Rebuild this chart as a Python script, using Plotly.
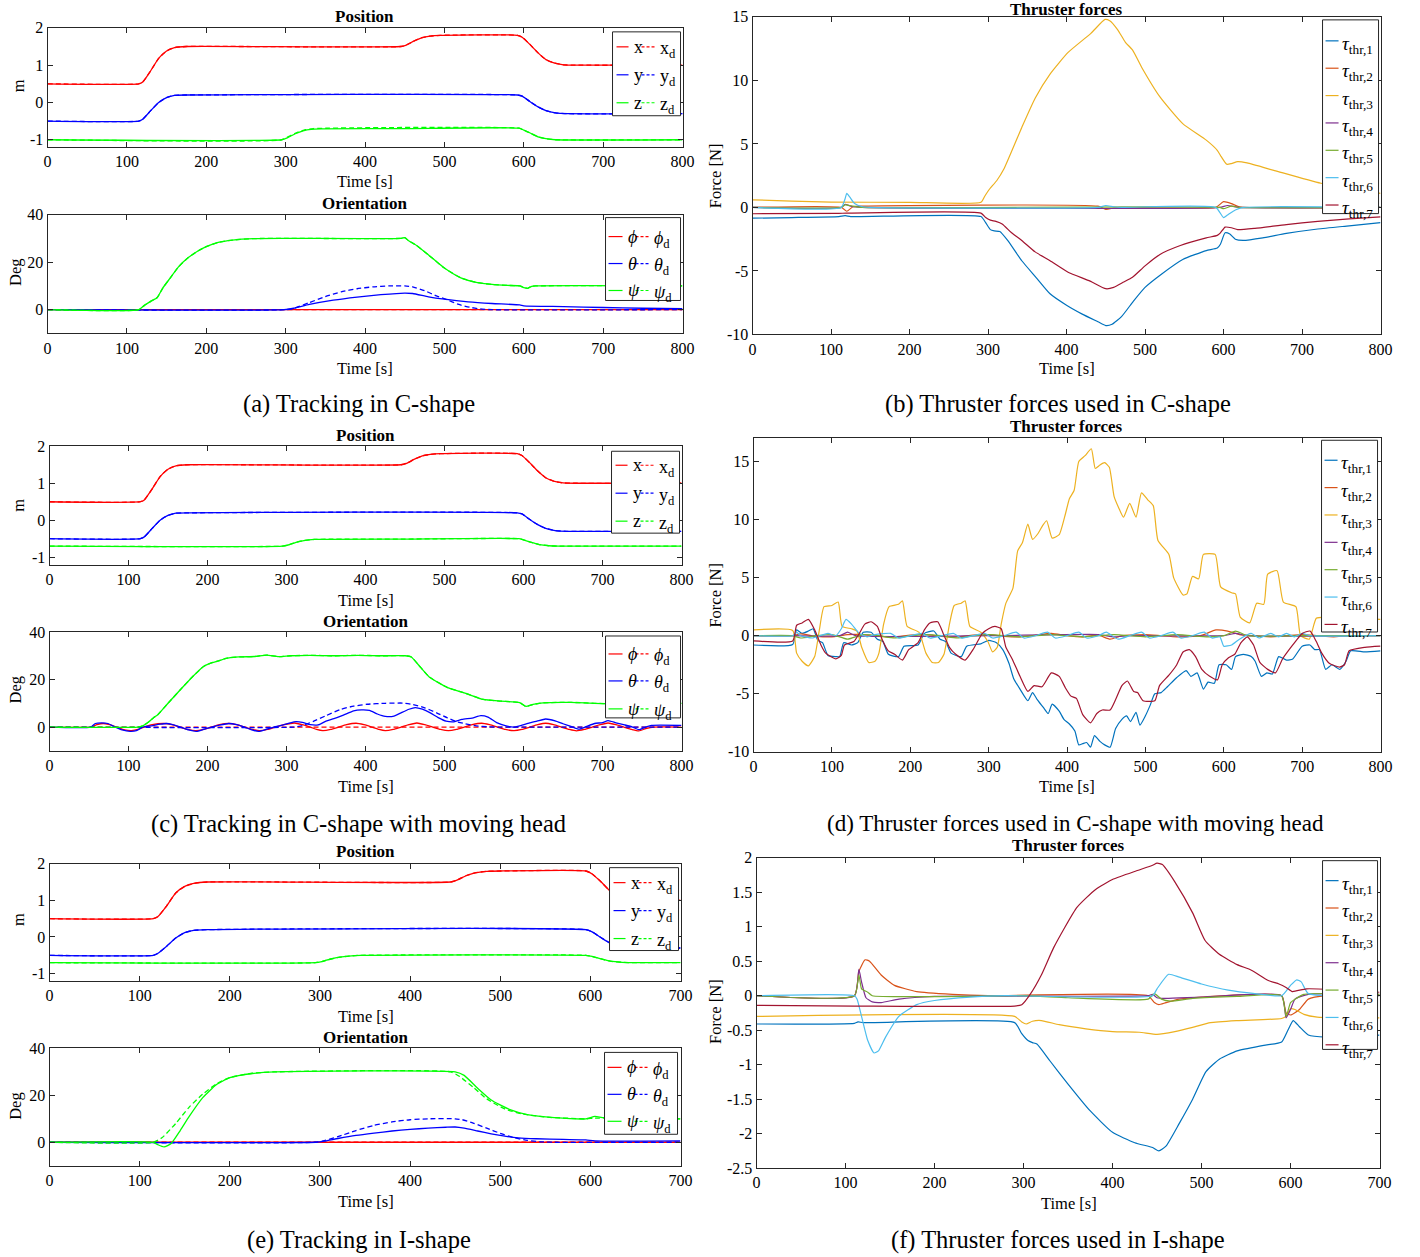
import plotly.graph_objects as go

W, H = 1420, 1257
FONT = "Liberation Serif"

# ---------------- DATA (time [s], value) ----------------
# (a) C-shape position
A_x = [(0,.5),(115,.5),(120,.55),(130,.85),(140,1.18),(150,1.38),(160,1.47),(175,1.5),(445,1.5),(452,1.54),(462,1.65),(472,1.74),(482,1.78),(495,1.8),(592,1.8),(598,1.75),(608,1.55),(618,1.33),(628,1.15),(638,1.06),(650,1.01),(665,1.0),(800,1.0)]
A_y = [(0,-.5),(115,-.5),(120,-.45),(130,-.22),(140,0.0),(150,.13),(160,.19),(175,.2),(592,.2),(598,.17),(608,.02),(618,-.12),(628,-.22),(640,-.28),(655,-.3),(800,-.3)]
A_z = [(0,-1),(295,-1),(302,-.95),(312,-.84),(322,-.76),(332,-.72),(345,-.71),(450,-.7),(594,-.69),(600,-.74),(608,-.82),(618,-.92),(628,-.97),(640,-1.0),(800,-1.0)]
A_zd = [(0,-1),(295,-1),(305,-.9),(315,-.8),(325,-.73),(335,-.7),(594,-.69),(600,-.74),(608,-.82),(618,-.92),(628,-.97),(640,-1.0),(800,-1.0)]
# (a) C-shape orientation
A_phi = [(0,0),(800,0)]
A_theta = [(0,0),(298,0),(310,0.6),(330,2.2),(360,4),(390,5.3),(420,6.3),(450,7),(460,6.8),(480,5.4),(500,4.4),(530,3.3),(560,2.6),(595,2.0),(600,1.6),(650,1.3),(700,0.9),(750,0.6),(800,0.4)]
A_theta_d = [(0,0),(300,0),(310,0.5),(330,3),(350,5.5),(370,7.5),(390,8.8),(410,9.6),(430,10),(450,10),(460,9.6),(475,8),(490,5.8),(503,4.2),(518,2.2),(532,1.0),(545,0.3),(560,0),(800,0)]
A_psi = [(0,0),(115,0),(122,1.8),(130,3.5),(138,5),(145,9),(155,13.5),(165,18),(177,21.8),(190,24.8),(200,26.5),(215,28.3),(233,29.3),(260,29.9),(300,30),(445,30),(450,30.3),(455,29),(465,27),(480,23),(500,17.5),(520,13.5),(540,11.5),(560,10.6),(580,10.2),(595,10),(600,9.3),(605,9.0),(610,9.8),(615,10),(800,10)]
# (b) C-shape thruster forces
B1 = [(0,-0.85),(50,-0.8),(110,-0.72),(118,-0.65),(125,-0.72),(291,-0.72),(297,-1.2),(303,-1.75),(308,-1.85),(315,-1.9),(325,-2.6),(343,-4.2),(361,-5.5),(379,-6.8),(400,-7.7),(420,-8.4),(440,-9.0),(450,-9.3),(458,-9.2),(470,-8.6),(485,-7.4),(500,-6.3),(520,-5.3),(548,-4.1),(578,-3.4),(592,-3.2),(596,-2.9),(602,-2.0),(608,-2.1),(615,-2.5),(625,-2.6),(650,-2.4),(680,-2.05),(720,-1.7),(760,-1.45),(800,-1.2)]
B2 = [(0,0),(113,0),(120,-0.3),(128,0.05),(140,0.1),(440,0.1),(450,-0.15),(460,-0.05),(470,0),(590,0),(600,0.45),(610,0.3),(620,0.05),(800,0)]
B3 = [(0,0.6),(50,0.5),(100,0.42),(200,0.4),(291,0.4),(296,0.9),(302,1.45),(311,2.1),(320,3.0),(343,6.3),(360,8.6),(379,10.5),(402,12.2),(431,13.7),(449,14.8),(455,14.7),(465,14.0),(475,13.0),(484,12.4),(496,11),(519,8.7),(548,6.6),(578,5.3),(592,4.5),(597,4.0),(604,3.4),(610,3.45),(618,3.6),(630,3.5),(665,2.9),(724,1.9),(800,1.1)]
B4 = [(0,0),(113,0),(118,0.25),(125,0.1),(140,0),(595,0),(605,0.15),(620,0),(800,0)]
B5 = [(0,0),(113,0),(118,0.2),(128,0.1),(140,0),(595,0),(600,-0.1),(610,0.1),(620,0),(800,0)]
B6 = [(0,0),(113,0),(118,0.7),(120,1.1),(124,0.8),(130,0.3),(140,0.05),(150,0),(440,0),(450,0.15),(460,0.05),(470,0),(590,0),(600,-0.8),(605,-0.6),(615,-0.2),(625,0),(800,0)]
B7 = [(0,-0.5),(110,-0.47),(120,-0.45),(291,-0.45),(297,-0.8),(303,-1.0),(310,-1.1),(318,-1.3),(330,-2.0),(343,-2.6),(360,-3.5),(379,-4.2),(402,-5.1),(430,-5.8),(450,-6.4),(460,-6.3),(472,-5.9),(484,-5.5),(500,-4.6),(519,-3.7),(545,-3.0),(578,-2.4),(592,-2.2),(596,-2.0),(602,-1.55),(610,-1.6),(618,-1.75),(640,-1.65),(680,-1.35),(720,-1.1),(760,-0.9),(800,-0.75)]
# (c) C-shape with moving head: position
C_x = A_x
C_y = A_y
C_z = [(0,-0.7),(295,-0.7),(302,-0.67),(312,-0.6),(322,-0.55),(335,-0.52),(450,-0.51),(594,-0.5),(600,-0.53),(610,-0.6),(620,-0.66),(632,-0.69),(645,-0.7),(800,-0.7)]
# (c) orientation
C_phi = [(0,0),(52,0),(60,1.0),(68,1.5),(76,1.0),(85,0),(95,-1.2),(104,-1.5),(112,-1.0),(120,0),(130,1.0),(145,1.5),(155,1.0),(165,0),(175,-1.0),(185,-1.5),(195,-1.0),(205,0),(215,1.0),(227,1.5),(237,1.0),(247,0),(257,-1.0),(266,-1.5),(276,-1.0),(286,0),(297,1.0),(310,1.7),(320,1.0),(330,0),(338,-1.0),(346,-1.5),(356,-1.0),(366,0),(376,1.0),(388,1.6),(398,1.0),(408,0),(417,-1.0),(425,-1.5),(435,-1.0),(445,0),(455,1.0),(465,1.7),(475,1.0),(485,0),(495,-1.0),(505,-1.5),(515,-1.0),(525,0),(535,1.0),(547,1.6),(557,1.0),(567,0),(577,-1.0),(588,-1.5),(598,-1.0),(608,0),(618,1.0),(628,1.6),(638,1.0),(648,0),(658,-1.0),(667,-1.6),(677,-1.0),(687,0),(697,1.0),(707,1.7),(717,1.0),(727,0),(737,-1.0),(746,-1.6),(756,-0.5),(765,0),(800,0)]
C_theta = [(0,0),(52,0),(58,1.5),(66,1.8),(74,1.5),(82,0.2),(92,-1.2),(102,-1.8),(110,-1.5),(118,0),(128,0.5),(140,1.2),(148,1.5),(156,1.0),(166,0),(176,-1.2),(186,-1.8),(195,-1.0),(205,0),(215,0.8),(227,1.5),(237,1.0),(247,0),(256,-1.2),(265,-1.8),(274,-1.0),(284,0),(295,0.8),(305,1.8),(312,2.3),(320,2.0),(330,1.0),(340,0.9),(350,2.5),(360,3.5),(372,5.0),(385,6.8),(395,7.2),(405,7.0),(415,5.5),(425,4.5),(436,4.6),(445,6),(455,7.5),(463,8.2),(472,7.5),(482,6),(492,4),(502,2.5),(512,2.2),(522,3.2),(535,3.8),(546,4.8),(555,4.2),(566,1.9),(578,0.5),(588,0),(598,0.8),(607,1.7),(617,2.5),(628,3.4),(640,2.6),(650,1.4),(660,0.3),(670,-0.9),(680,0.3),(690,1.5),(700,1.9),(707,2.7),(717,1.8),(728,0.9),(738,0),(746,-1.1),(755,0),(762,0.7),(800,0.7)]
C_theta_d = [(0,0),(310,0),(320,0.6),(334,2.4),(350,4.8),(368,7.4),(385,8.8),(402,9.6),(425,10),(447,10.1),(460,9.5),(475,8.1),(490,6),(504,3.8),(515,2.3),(526,1.4),(540,0.5),(555,0.1),(570,0),(800,0)]
C_psi = [(0,0),(112,0),(118,0.5),(125,2),(132,4),(137,5.2),(150,10),(165,15.5),(182,21.5),(195,25.5),(205,27),(215,28),(225,29),(240,29.5),(260,29.7),(275,30.3),(290,29.6),(305,30),(330,30.2),(360,30),(390,30.2),(420,30),(450,30),(458,29.5),(470,25),(481,21),(504,16.6),(526,14.3),(549,11.6),(571,10.9),(595,10.3),(603,8.7),(612,9.5),(625,10.2),(660,10.4),(690,10),(720,9.8),(750,10),(800,10)]
# (d) C-shape with moving head: thruster forces
D1 = [(0,-0.8),(50,-0.75),(55,0.5),(62,0.2),(70,0.4),(76,0.6),(82,-0.4),(88,-0.6),(95,-1.7),(105,-1.8),(110,-1.8),(115,-0.6),(125,-0.8),(133,-0.6),(140,0.3),(150,0.3),(158,-0.3),(165,-0.5),(172,-1.6),(185,-1.8),(192,-0.9),(210,-0.8),(218,0.2),(230,0.4),(238,-0.3),(245,-0.5),(252,-1.5),(265,-1.8),(272,-0.9),(290,-0.7),(300,-0.4),(310,-0.6),(318,-1.2),(326,-2.4),(332,-3.7),(340,-4.6),(350,-5.6),(356,-4.9),(362,-5.5),(370,-6.2),(376,-6.7),(381,-5.9),(390,-6.5),(396,-7.2),(403,-7.6),(410,-8.2),(415,-9.4),(420,-9.3),(425,-9.2),(430,-9.6),(435,-8.6),(442,-9.1),(448,-9.4),(455,-9.6),(462,-8.0),(470,-7.2),(476,-6.9),(481,-7.4),(488,-6.6),(493,-7.7),(500,-6.9),(506,-6.0),(512,-5.0),(520,-4.9),(528,-4.4),(540,-3.6),(552,-3.0),(558,-3.5),(566,-3.2),(574,-4.6),(580,-4.0),(588,-4.1),(594,-2.5),(603,-2.5),(610,-2.9),(615,-1.8),(625,-1.6),(635,-1.8),(640,-2.2),(648,-3.5),(655,-3.2),(662,-3.3),(670,-1.8),(680,-2.1),(688,-2.0),(700,-0.9),(710,-0.8),(716,-1.2),(722,-1.2),(730,-2.9),(738,-2.5),(748,-2.9),(756,-2.2),(762,-1.3),(780,-1.4),(800,-1.3)]
D2 = [(0,0),(50,0),(60,0.15),(80,-0.05),(100,-0.1),(120,0.1),(140,0.1),(160,-0.05),(180,-0.1),(200,0.05),(220,0.1),(240,-0.05),(260,-0.1),(280,0.05),(300,0.1),(320,-0.05),(340,-0.1),(360,0.05),(380,0.2),(400,0),(420,-0.1),(440,0.05),(455,-0.3),(470,0),(500,0.1),(520,0),(540,-0.1),(570,0),(590,0.5),(605,0.4),(620,0.1),(640,0),(660,-0.1),(680,0),(700,0.1),(720,0),(740,-0.1),(760,0),(800,0)]
D3 = [(0,0.5),(50,0.45),(55,-1.5),(62,-2.2),(70,-2.6),(78,-1.8),(84,0.5),(90,2.5),(100,2.6),(108,2.9),(113,0.8),(125,0.6),(132,0.4),(138,-1.0),(147,-2.3),(155,-2.2),(160,-1.5),(166,1.0),(173,2.5),(185,2.7),(190,3.0),(196,0.8),(211,0.3),(220,-1.5),(228,-2.3),(236,-2.3),(243,-1.6),(250,1.0),(256,2.6),(265,2.8),(270,3.0),(276,0.8),(290,0.3),(299,-0.5),(305,-1.4),(311,-1.0),(316,1.0),(322,2.8),(331,4.1),(337,7.3),(343,8.0),(350,9.6),(356,8.3),(363,8.8),(369,9.5),(374,9.9),(381,8.4),(390,8.7),(398,10.5),(403,11.8),(409,12.5),(415,15.0),(423,15.5),(431,16.1),(436,14.4),(442,14.7),(448,14.9),(454,14.5),(460,12.0),(466,11.0),(472,10.2),(480,11.4),(488,10.2),(495,12.3),(503,11.7),(510,11.2),(516,8.2),(530,7.0),(536,5.0),(548,3.5),(553,3.6),(560,5.1),(568,4.9),(574,7.0),(589,7.0),(596,4.2),(610,3.7),(615,3.6),(621,1.6),(633,1.1),(642,2.8),(651,2.7),(656,5.3),(668,5.6),(676,2.9),(692,2.5),(698,0.0),(709,-0.3),(718,1.5),(730,1.6),(760,1.5),(800,1.4)]
D4 = [(0,0),(50,0),(110,0),(120,0.3),(130,0),(300,0),(440,0.1),(460,-0.1),(480,0),(600,0),(615,0.2),(630,0),(800,0)]
D5 = [(0,0),(50,0),(60,-0.2),(80,0),(100,0.1),(120,-0.3),(140,0.1),(160,0),(180,-0.2),(200,0),(220,0.1),(240,0),(260,-0.2),(280,0),(300,0.1),(340,-0.1),(380,0.1),(420,-0.1),(460,0.1),(500,-0.1),(540,0.1),(580,-0.1),(600,0),(615,0.4),(630,0),(700,0),(800,0)]
D6 = [(0,0),(50,0),(55,0.3),(60,0),(75,-0.2),(85,0),(95,0.2),(105,0),(112,0.6),(118,1.4),(125,1.0),(135,0.2),(145,-0.1),(155,0.1),(175,0.2),(185,-0.2),(200,0),(215,0.2),(225,-0.2),(240,0),(255,0.2),(265,-0.2),(280,0),(295,0.2),(305,-0.2),(320,0),(335,0.3),(345,-0.2),(360,0),(375,0.3),(385,-0.2),(400,0),(415,0.3),(425,-0.2),(440,0),(450,0.3),(465,-0.3),(480,0),(495,0.3),(505,-0.2),(520,0),(535,0.3),(545,-0.2),(560,0),(575,0.3),(585,-0.2),(595,-0.1),(600,-0.9),(610,-0.8),(620,-0.3),(635,0.2),(645,-0.2),(660,0.2),(670,-0.1),(680,0.2),(690,-0.1),(700,0.2),(710,0),(800,0)]
D7 = [(0,-0.45),(50,-0.45),(55,0.9),(62,1.1),(70,1.4),(78,0.5),(86,-0.8),(92,-1.5),(105,-2.0),(112,-1.7),(116,-0.8),(128,-0.5),(135,0.2),(142,1.0),(150,1.2),(158,0.8),(164,-0.3),(172,-1.3),(180,-1.6),(190,-2.1),(198,-1.2),(210,-0.6),(218,0.5),(225,1.1),(235,1.2),(242,0.2),(250,-1.0),(258,-1.6),(270,-2.1),(280,-1.2),(292,0.2),(300,0.6),(308,0.8),(316,0.6),(322,-1.0),(330,-2.0),(340,-3.5),(350,-4.8),(358,-4.3),(368,-4.4),(380,-3.2),(390,-3.5),(398,-4.5),(405,-5.2),(412,-5.4),(420,-6.8),(430,-7.5),(438,-6.7),(445,-6.4),(455,-6.4),(462,-5.5),(470,-4.3),(477,-3.9),(485,-4.8),(490,-4.9),(497,-5.6),(512,-5.6),(518,-4.3),(530,-3.4),(540,-2.5),(548,-1.4),(556,-1.2),(564,-1.8),(572,-2.9),(582,-3.5),(592,-3.8),(598,-2.5),(606,-1.9),(614,-1.6),(622,-0.6),(630,-0.1),(638,-0.8),(646,-2.3),(656,-2.9),(666,-3.2),(675,-2.0),(688,-0.8),(700,0.2),(710,0.4),(718,-0.5),(725,-1.5),(735,-2.4),(748,-2.7),(754,-2.5),(760,-1.3),(780,-1.0),(800,-0.9)]
# (e) I-shape position
E_x = [(0,.5),(115,.5),(120,.55),(130,.85),(140,1.2),(150,1.38),(160,1.46),(175,1.5),(445,1.5),(452,1.55),(462,1.67),(472,1.75),(485,1.79),(500,1.8),(595,1.8),(602,1.72),(612,1.5),(622,1.25),(632,1.1),(645,1.02),(660,1.0),(700,1.0)]
E_y = [(0,-.5),(115,-.5),(120,-.45),(130,-.25),(140,-.03),(150,.12),(160,.18),(175,.2),(595,.2),(602,.14),(612,-.02),(622,-.17),(632,-.26),(645,-.3),(700,-.3)]
E_z = [(0,-.7),(295,-.7),(302,-.67),(312,-.6),(322,-.55),(332,-.52),(345,-.5),(595,-.5),(602,-.53),(612,-.6),(622,-.66),(635,-.69),(650,-.7),(700,-.7)]
# (e) orientation
E_phi = [(0,0),(700,0)]
E_theta = [(0,0),(295,0),(305,0.5),(320,1.6),(340,2.9),(360,3.9),(380,4.8),(400,5.5),(420,6.0),(440,6.4),(450,6.5),(460,6.0),(475,4.8),(490,3.6),(505,2.6),(520,1.9),(540,1.5),(570,1.2),(595,1.0),(605,0.6),(700,0.6)]
E_theta_d = [(0,0),(295,0),(305,0.7),(320,2.4),(340,5.0),(360,7.2),(380,8.7),(400,9.6),(420,10),(450,10),(458,9.6),(470,8.2),(485,6.0),(500,3.8),(515,2.0),(530,0.8),(545,0.2),(560,0),(700,0)]
E_psi = [(0,0),(115,0),(120,-1),(127,-2),(135,-0.5),(145,5),(155,11),(170,19),(185,24.5),(200,27.5),(225,29.3),(250,30),(450,30),(460,28.5),(475,23),(490,18),(510,14),(530,11.8),(560,10.5),(595,10),(605,11),(615,10.5),(700,10)]
E_psi_d = [(0,0),(115,0),(125,2),(140,8),(155,15),(170,20.5),(185,24.8),(200,27.6),(225,29.4),(250,30),(445,30),(455,28),(470,23.5),(485,18.5),(505,14.2),(525,12),(555,10.6),(595,10),(605,10.3),(700,10)]
# (f) I-shape thruster forces
F1 = [(0,-0.41),(110,-0.4),(114,-0.38),(120,-0.39),(290,-0.39),(298,-0.55),(305,-0.65),(310,-0.68),(315,-0.7),(330,-0.95),(350,-1.28),(375,-1.67),(400,-1.98),(425,-2.13),(445,-2.2),(452,-2.25),(460,-2.18),(475,-1.85),(490,-1.5),(505,-1.1),(520,-0.92),(540,-0.8),(570,-0.72),(590,-0.67),(597,-0.5),(603,-0.36),(610,-0.45),(620,-0.57),(640,-0.6),(700,-0.57)]
F2 = [(0,0),(110,0),(115,0.35),(122,0.52),(127,0.5),(140,0.3),(155,0.15),(180,0.06),(220,0.02),(260,0),(440,0),(447,-0.1),(452,-0.13),(460,-0.1),(475,-0.05),(500,-0.02),(590,0),(595,-0.25),(600,-0.28),(610,-0.2),(620,-0.05),(640,0),(700,0)]
F3 = [(0,-0.3),(290,-0.3),(298,-0.38),(303,-0.41),(310,-0.37),(320,-0.36),(340,-0.42),(370,-0.48),(400,-0.52),(430,-0.53),(450,-0.56),(470,-0.52),(490,-0.46),(510,-0.39),(540,-0.36),(590,-0.33),(595,-0.3),(600,-0.19),(605,-0.2),(615,-0.27),(630,-0.31),(700,-0.32)]
F4 = [(0,0),(110,0),(115,0.38),(118,0.2),(123,-0.03),(130,-0.09),(140,-0.1),(160,-0.05),(200,-0.01),(440,0),(445,0.02),(450,-0.03),(460,-0.04),(500,-0.02),(590,0),(595,-0.32),(600,-0.2),(605,-0.05),(620,0.02),(700,0.02)]
F5 = [(0,0),(110,0),(115,0.3),(118,0.1),(125,0.05),(130,0),(300,0),(350,-0.03),(440,-0.05),(447,0.03),(455,-0.05),(465,-0.08),(490,-0.04),(540,-0.01),(590,0),(595,-0.3),(600,-0.1),(605,-0.05),(615,0.02),(700,0.02)]
F6 = [(0,0),(110,0),(113,-0.05),(118,-0.3),(125,-0.65),(132,-0.83),(137,-0.8),(145,-0.6),(160,-0.3),(180,-0.13),(200,-0.07),(240,-0.02),(280,0),(445,0),(450,0.1),(463,0.31),(475,0.27),(500,0.17),(530,0.08),(560,0.03),(590,0),(600,0.15),(607,0.23),(612,0.2),(620,0.03),(700,0)]
F7 = [(0,-0.14),(110,-0.15),(290,-0.15),(298,-0.13),(308,0.03),(320,0.3),(334,0.7),(360,1.28),(381,1.54),(401,1.69),(427,1.81),(445,1.89),(450,1.92),(456,1.9),(470,1.65),(490,1.2),(504,0.8),(520,0.6),(540,0.45),(556,0.37),(575,0.22),(587,0.17),(595,0.12),(602,0.06),(618,0.1),(700,0.05)]

# tick labels
POS_TICKS = [-1, 0, 1, 2]
POS_TXT = ["-1", "0", "1", "2"]
ORI_TICKS = [0, 20, 40]
ORI_TXT = ["0", "20", "40"]
THR_TICKS = [-10, -5, 0, 5, 10, 15]
THR_TXT = ["-10", "-5", "0", "5", "10", "15"]
F_TICKS = [-2.5, -2, -1.5, -1, -0.5, 0, 0.5, 1, 1.5, 2]
F_TXT = ["-2.5", "-2", "-1.5", "-1", "-0.5", "0", "0.5", "1", "1.5", "2"]

CAPTIONS = ["(a) Tracking in C-shape", "(b) Thruster forces used in C-shape",
            "(c) Tracking in C-shape with moving head", "(d) Thruster forces used in C-shape with moving head",
            "(e) Tracking in I-shape", "(f) Thruster forces used in I-shape"]

# ---------------- STYLE ----------------
RED, BLUE, GREEN = "#FF0000", "#0000FF", "#00FF00"
TC = ["#0072BD", "#D95319", "#EDB120", "#7E2F8E", "#77AC30", "#4DBEEE", "#A2142F"]
AXC = "#262626"
DASH = "5px,3px"
# compensation for the capture's slight rescale (target pixel -> figure pixel)
SX, OX, SY, OY = 0.9887, 3.5, 0.9879, 7.1

def X(p): return ((p - OX) / SX) / W
def Y(p): return 1 - ((p - OY) / SY) / H

fig = go.Figure()
layout = dict(width=W, height=H, margin=dict(l=0, r=0, t=0, b=0), autosize=False,
              paper_bgcolor="white", plot_bgcolor="white", showlegend=False,
              font=dict(family=FONT, size=16, color="black"))
shapes, annots = [], []

# panel boxes in pixels: (x0, x1, y0, y1, xmax, yrange, ticks, ticktext)
panels = [
    (47, 682, 27, 146.5, 800, [-1.2, 2], POS_TICKS, POS_TXT),
    (47, 682, 214, 333, 800, [-10, 40], ORI_TICKS, ORI_TXT),
    (752, 1380, 16, 334, 800, [-10, 15], THR_TICKS, THR_TXT),
    (49, 681, 446, 564.5, 800, [-1.2, 2], POS_TICKS, POS_TXT),
    (49, 681, 632, 751, 800, [-10, 40], ORI_TICKS, ORI_TXT),
    (753, 1380, 438, 752, 800, [-10, 17], THR_TICKS, THR_TXT),
    (49, 680, 864, 981.5, 700, [-1.2, 2], POS_TICKS, POS_TXT),
    (49, 680, 1049, 1166.5, 700, [-10, 40], ORI_TICKS, ORI_TXT),
    (756, 1379, 858, 1169, 700, [-2.5, 2], F_TICKS, F_TXT),
]
for i, (x0, x1, y0, y1, xm, yr, tv, tt) in enumerate(panels):
    n = "" if i == 0 else str(i + 1)
    common = dict(showline=True, linecolor=AXC, linewidth=1, mirror="ticks", ticks="inside",
                  ticklen=5, tickcolor=AXC, showgrid=False, zeroline=False,
                  tickfont=dict(family=FONT, size=16, color="black"))
    layout["xaxis" + n] = dict(domain=[X(x0), X(x1)], range=[0, xm], dtick=100, tick0=0,
                               anchor="y" + n, **common)
    layout["yaxis" + n] = dict(domain=[Y(y1), Y(y0)], range=yr, tickvals=tv, ticktext=tt,
                               anchor="x" + n, **common)

def add(series, k, color, dash="solid", width=1.3):
    n = "" if k == 1 else str(k)
    fig.add_trace(go.Scatter(x=[p[0] for p in series], y=[p[1] for p in series], mode="lines",
                             line=dict(color=color, width=width, dash=dash, shape="spline", smoothing=0.5),
                             xaxis="x" + n, yaxis="y" + n, hoverinfo="skip"))

# position panels
for k, (sx, sy, sz, szd) in {1: (A_x, A_y, A_z, A_zd), 4: (C_x, C_y, C_z, C_z), 7: (E_x, E_y, E_z, E_z)}.items():
    add(sx, k, RED, DASH); add(sy, k, BLUE, DASH); add(szd, k, GREEN, DASH)
    add(sx, k, RED); add(sy, k, BLUE); add(sz, k, GREEN)
# orientation panels
for k, (ph, th, thd, ps, psd) in {2: (A_phi, A_theta, A_theta_d, A_psi, A_psi),
                                  5: (C_phi, C_theta, C_theta_d, C_psi, C_psi),
                                  8: (E_phi, E_theta, E_theta_d, E_psi, E_psi_d)}.items():
    xm = 800 if k != 8 else 700
    add(ph, k, RED)
    add([(0, 0), (xm, 0)], k, RED, DASH)
    add(th, k, BLUE); add(thd, k, BLUE, DASH)
    add(ps, k, GREEN); add(psd, k, GREEN, DASH)
# thruster panels
for k, ser in {3: (B1, B2, B3, B4, B5, B6, B7), 6: (D1, D2, D3, D4, D5, D6, D7),
               9: (F1, F2, F3, F4, F5, F6, F7)}.items():
    for j, s in enumerate(ser):
        add(s, k, TC[j], width=1.2)

def text(x, y, s, size=16, xa="center", ya="middle", angle=0):
    annots.append(dict(x=X(x), y=Y(y), xref="paper", yref="paper", text=s, showarrow=False,
                       xanchor=xa, yanchor=ya, textangle=angle,
                       font=dict(family=FONT, size=size, color="black")))

def rect(x0, y0, x1, y1):
    shapes.append(dict(type="rect", xref="paper", yref="paper", x0=X(x0), x1=X(x1), y0=Y(y1), y1=Y(y0),
                       line=dict(color=AXC, width=1), fillcolor="white", layer="above"))

def seg(x0, x1, y, color, dash="solid"):
    shapes.append(dict(type="line", xref="paper", yref="paper", x0=X(x0), x1=X(x1), y0=Y(y), y1=Y(y),
                       line=dict(color=color, width=1.2, dash=dash), layer="above"))

# titles / axis labels
for (tx, ty, t) in [(364, 16, "Position"), (364, 203, "Orientation"), (1066, 8.5, "Thruster forces"),
                    (365, 435, "Position"), (365, 621, "Orientation"), (1066, 426, "Thruster forces"),
                    (365, 852, "Position"), (365, 1038, "Orientation"), (1068, 846, "Thruster forces")]:
    text(tx, ty, "<b>" + t + "</b>", 17)
for (tx, ty) in [(364, 181), (364, 368), (1066, 368), (365, 600), (365, 787), (1066, 787),
                 (365, 1017), (365, 1202), (1068, 1204)]:
    text(tx, ty, "Time [s]", 16.5)
for (tx, ty, t) in [(18, 85, "m"), (15, 272, "Deg"), (715, 175, "Force [N]"),
                    (18, 505, "m"), (15, 690, "Deg"), (715, 595, "Force [N]"),
                    (18, 920, "m"), (15, 1107, "Deg"), (715, 1012, "Force [N]")]:
    text(tx, ty, t, 16.5, angle=-90)
for (tx, ty), c, sz in zip([(358, 404), (1057, 404), (358, 824), (1075, 824), (358, 1241), (1057, 1241)],
                           CAPTIONS, [24.5, 24.5, 24.5, 23, 24.5, 24.5]):
    text(tx, ty, c, sz)

# legends
POS_LAB = [(RED, "x", "x<sub>d</sub>"), (BLUE, "y", "y<sub>d</sub>"), (GREEN, "z", "z<sub>d</sub>")]
ORI_LAB = [(RED, "<i>ϕ</i>", "<i>ϕ</i><sub>d</sub>"), (BLUE, "<i>θ</i>", "<i>θ</i><sub>d</sub>"),
           (GREEN, "<i>ψ</i>", "<i>ψ</i><sub>d</sub>")]
for (bx0, by0, bx1, by1, rows, labs, off) in [
        (612, 31, 680, 115, [46, 74, 102], POS_LAB, (4, 16, 19, 29, 42, 46)),
        (605, 217, 680, 300, [236, 263, 290], ORI_LAB, (3, 17, 20, 30, 43, 47)),
        (611, 451, 679, 533, [465, 493, 521], POS_LAB, (4, 16, 19, 29, 42, 46)),
        (605, 636, 680, 718, [654, 681, 709], ORI_LAB, (3, 17, 20, 30, 43, 47)),
        (609, 868, 678, 951, [883, 911, 939], POS_LAB, (4, 16, 19, 29, 42, 46)),
        (604, 1053, 677, 1135, [1068, 1095, 1122], ORI_LAB, (3, 17, 20, 30, 43, 47))]:
    rect(bx0, by0, bx1, by1)
    for ry, (c, l1, l2) in zip(rows, labs):
        seg(bx0 + off[0], bx0 + off[1], ry, c)
        text(bx0 + off[2], ry, l1, 18, xa="left")
        seg(bx0 + off[3], bx0 + off[4], ry, c, "3px,2px")
        text(bx0 + off[5] - 1, ry + 3, l2, 18, xa="left")
for (bx0, by0, bx1, by1, r0) in [(1322, 19, 1378, 213, 40), (1321, 440, 1377, 632, 460), (1322, 861, 1377, 1050, 881)]:
    rect(bx0, by0, bx1, by1)
    for j in range(7):
        ry = r0 + 27.4 * j
        seg(bx0 + 3, bx0 + 16, ry, TC[j])
        text(bx0 + 17, ry + 4, "<i>τ</i><sub>thr,%d</sub>" % (j + 1), 19, xa="left")

layout["shapes"] = shapes
layout["annotations"] = annots
fig.update_layout(**layout)
fig.write_html("out.html", config={"displayModeBar": False},
               post_script="document.body.style.margin='0';document.body.style.overflow='hidden';")
